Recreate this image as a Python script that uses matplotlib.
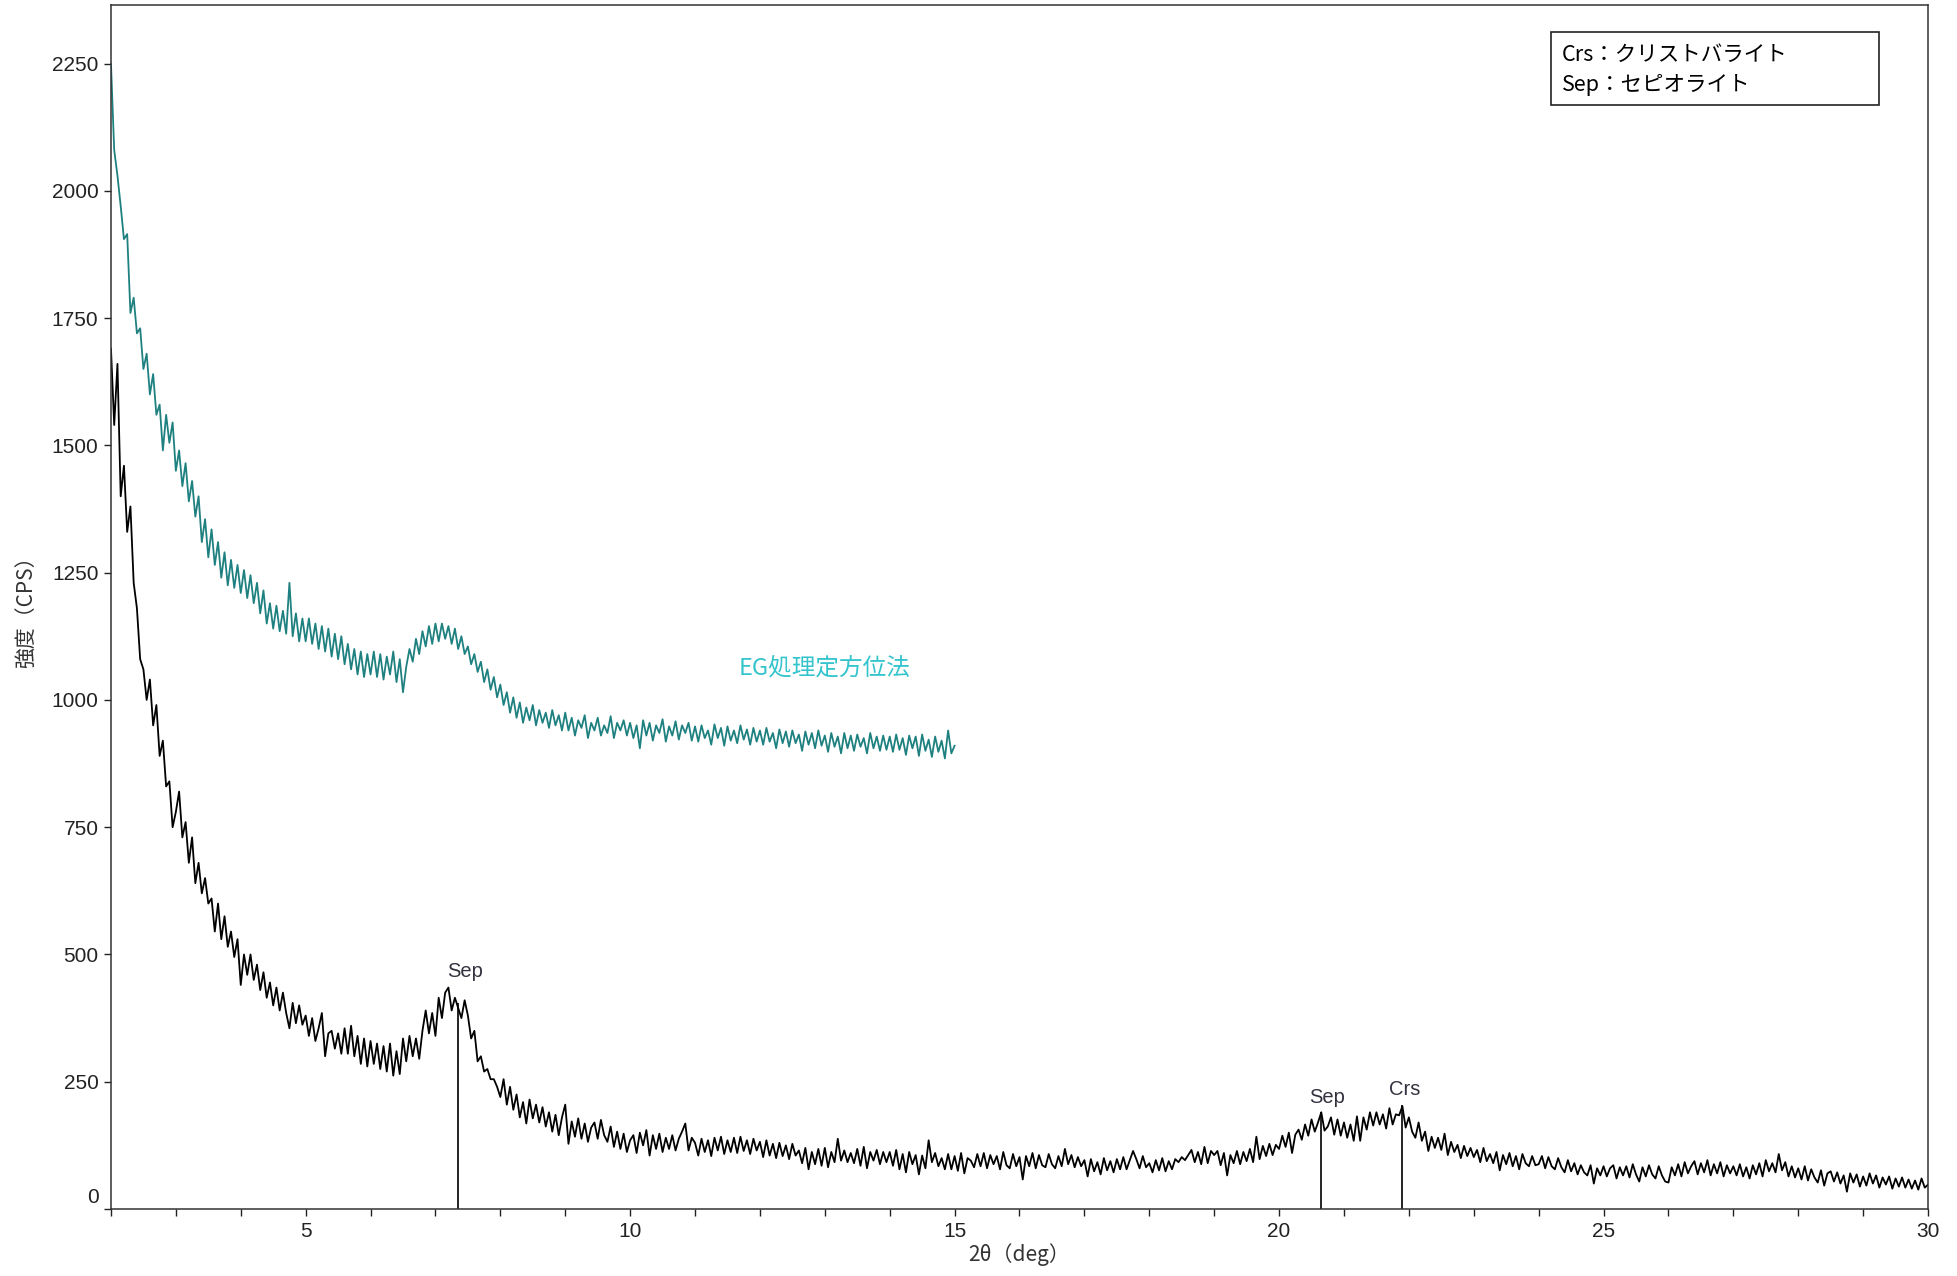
import numpy as np
import matplotlib
matplotlib.use('Agg')
import matplotlib.pyplot as plt
import matplotlib.transforms as mtransforms
from matplotlib.patches import Rectangle

# scan angle grid (2theta, 0.05 deg step) and intensities (CPS)
step = 0.05
x_black = np.round(np.arange(2.0, 30.0 + step / 2, step), 2)
y_black = [
    1690, 1540, 1660, 1400, 1460, 1330, 1380, 1230, 1180, 1080, 1060, 1000, 1040, 950, 990, 890, 920, 830, 840, 750,
    780, 820, 730, 760, 680, 730, 640, 680, 620, 650, 600, 610, 545, 600, 530, 575, 515, 545, 495, 530,
    440, 500, 460, 500, 450, 480, 430, 465, 415, 445, 400, 435, 390, 425, 385, 355, 405, 365, 400, 362,
    380, 340, 375, 330, 355, 385, 300, 345, 350, 315, 345, 305, 355, 305, 360, 300, 340, 285, 335, 280,
    330, 285, 325, 275, 320, 270, 325, 262, 310, 265, 335, 290, 340, 300, 335, 295, 350, 390, 345, 385,
    340, 415, 375, 425, 435, 390, 415, 395, 375, 410, 380, 335, 350, 290, 300, 270, 275, 255, 255, 240,
    220, 255, 205, 240, 195, 225, 180, 210, 168, 215, 178, 205, 170, 200, 162, 190, 152, 185, 145, 180,
    205, 128, 172, 142, 178, 138, 168, 132, 160, 170, 138, 175, 145, 132, 162, 122, 152, 118, 148, 112,
    135, 145, 110, 150, 125, 155, 105, 145, 118, 148, 112, 140, 118, 145, 115, 138, 152, 168, 115, 140,
    130, 105, 138, 112, 135, 104, 140, 115, 142, 108, 135, 112, 140, 110, 142, 114, 135, 108, 138, 115,
    132, 102, 135, 105, 128, 100, 130, 104, 125, 98, 128, 105, 115, 90, 120, 78, 112, 88, 118, 85,
    120, 82, 112, 92, 138, 95, 115, 92, 110, 90, 118, 85, 122, 80, 112, 95, 116, 88, 112, 92,
    112, 85, 116, 78, 108, 72, 112, 88, 106, 68, 105, 80, 135, 92, 110, 84, 100, 78, 108, 78,
    104, 75, 110, 70, 100, 95, 82, 108, 84, 110, 80, 106, 88, 104, 78, 112, 86, 80, 108, 84,
    102, 58, 104, 84, 110, 80, 106, 86, 82, 108, 88, 80, 104, 84, 118, 88, 106, 82, 102, 84,
    96, 64, 98, 74, 92, 68, 100, 76, 94, 72, 98, 78, 102, 78, 96, 114, 98, 80, 104, 82,
    90, 72, 96, 76, 100, 74, 94, 78, 98, 92, 102, 96, 106, 116, 92, 112, 88, 122, 90, 114,
    106, 114, 86, 110, 66, 106, 90, 114, 88, 112, 94, 118, 92, 142, 98, 124, 104, 128, 106, 126,
    118, 144, 122, 150, 110, 146, 156, 136, 166, 144, 176, 152, 170, 190, 154, 162, 180, 146, 176, 144,
    170, 140, 166, 134, 182, 134, 180, 156, 190, 164, 190, 166, 186, 158, 198, 166, 186, 184, 202, 160,
    180, 152, 140, 170, 134, 152, 114, 142, 120, 140, 116, 148, 106, 132, 112, 126, 100, 124, 104, 120,
    102, 116, 92, 120, 94, 108, 90, 112, 76, 106, 88, 110, 84, 104, 78, 108, 90, 84, 104, 86,
    88, 104, 80, 102, 84, 78, 100, 82, 72, 96, 74, 90, 68, 86, 72, 66, 86, 50, 80, 66,
    84, 64, 80, 86, 60, 82, 66, 84, 62, 88, 68, 54, 82, 64, 86, 68, 60, 84, 66, 54,
    52, 82, 66, 88, 64, 92, 70, 84, 94, 68, 90, 72, 96, 66, 88, 70, 92, 64, 86, 70,
    84, 66, 88, 64, 82, 60, 86, 68, 90, 64, 96, 74, 90, 72, 108, 76, 92, 64, 84, 62,
    80, 58, 84, 56, 78, 62, 52, 76, 46, 70, 74, 54, 72, 50, 66, 34, 70, 52, 68, 44,
    64, 46, 70, 50, 66, 42, 62, 48, 64, 40, 60, 44, 62, 42, 58, 40, 56, 38, 60, 42,
    48,
]

# EG treated oriented sample
x_eg = np.round(np.arange(2.0, 15.0 + step / 2, step), 2)
y_eg = [
    2250, 2080, 2030, 1970, 1905, 1915, 1760, 1790, 1720, 1730, 1650, 1680, 1600, 1640, 1560, 1580, 1490, 1560, 1505, 1545,
    1450, 1490, 1420, 1465, 1390, 1430, 1360, 1400, 1310, 1355, 1280, 1335, 1265, 1310, 1240, 1290, 1225, 1275, 1220, 1265,
    1210, 1255, 1200, 1245, 1190, 1230, 1170, 1215, 1150, 1190, 1140, 1185, 1135, 1175, 1130, 1230, 1125, 1170, 1115, 1160,
    1115, 1160, 1110, 1150, 1100, 1145, 1095, 1140, 1085, 1130, 1080, 1125, 1070, 1110, 1060, 1100, 1050, 1095, 1045, 1090,
    1050, 1095, 1045, 1090, 1040, 1085, 1050, 1095, 1035, 1080, 1015, 1065, 1100, 1075, 1120, 1090, 1135, 1105, 1145, 1110,
    1150, 1115, 1150, 1120, 1145, 1110, 1140, 1100, 1125, 1090, 1105, 1070, 1090, 1055, 1075, 1035, 1060, 1020, 1045, 1005,
    1030, 990, 1015, 975, 1005, 965, 995, 955, 985, 960, 990, 950, 980, 955, 975, 945, 980, 950, 970, 940,
    975, 940, 965, 930, 960, 945, 970, 925, 955, 940, 965, 930, 950, 935, 968, 925, 955, 940, 960, 930,
    955, 925, 950, 905, 960, 930, 955, 920, 950, 935, 962, 918, 948, 930, 958, 922, 950, 935, 955, 920,
    948, 918, 950, 925, 940, 912, 952, 925, 945, 910, 948, 920, 940, 915, 950, 922, 942, 912, 945, 918,
    940, 912, 945, 918, 935, 905, 942, 915, 938, 908, 940, 915, 932, 900, 938, 912, 935, 905, 940, 910,
    930, 898, 935, 908, 928, 895, 935, 905, 930, 900, 932, 908, 925, 895, 935, 905, 928, 900, 930, 902,
    928, 898, 932, 902, 925, 892, 930, 905, 928, 890, 932, 900, 922, 888, 928, 898, 920, 885, 940, 895,
    910,
]

# identified peaks
peak_names = ['Sep', 'Sep', 'Crs']
peak_pos = [7.35, 20.65, 21.9]
peak_top = [405, 191, 204]
label_x = [7.46, 20.74, 21.94]
label_y = [466, 220, 234]

legend_lines = ['Crs：クリストバライト', 'Sep：セピオライト']

plt.rcParams['font.family'] = ['Liberation Sans', 'Noto Sans CJK JP', 'DejaVu Sans']

fig = plt.figure(figsize=(19.57, 12.76), dpi=100)
ax = fig.add_axes([0.0567, 0.0525, 0.9285, 0.9436])

ax.plot(x_eg, y_eg, color='#1f8080', lw=1.3)
ax.plot(x_black, y_black, color='black', lw=1.3)
ax.vlines(peak_pos, 0, peak_top, color='black', lw=1.2)

for name, lx, ly in zip(peak_names, label_x, label_y):
    ax.text(lx, ly, name, ha='center', va='center', fontsize=14.5, color='#333340')

ax.text(13.0, 1062, 'EG処理定方位法', ha='center', va='center', fontsize=17,
        color='#33c4cc', family=['Noto Sans CJK JP', 'DejaVu Sans'])

ax.set_xlim(2, 30)
ax.set_ylim(0, 2365)
ax.set_xticks(range(2, 31))
ax.set_xticklabels([str(v) if v % 5 == 0 else '' for v in range(2, 31)])
ax.set_yticks(range(0, 2251, 250))
ax.set_yticklabels([str(v) for v in range(0, 2251, 250)])
ax.tick_params(direction='out', length=5, width=1.0, labelsize=15, colors='#222222', pad=4)

# lift the "0" label a little above the axis line as in the original
for lab in ax.get_yticklabels():
    if lab.get_text() == '0':
        lab.set_transform(lab.get_transform() + mtransforms.ScaledTranslation(0, 10 / 72, fig.dpi_scale_trans))

for s in ax.spines.values():
    s.set_color('#333333')
    s.set_linewidth(1.1)

ax.set_xlabel('2θ（deg）', fontsize=15, family=['Noto Sans CJK JP', 'DejaVu Sans'], color='#333333', labelpad=2)
ax.set_ylabel('強度（CPS）', fontsize=15, family=['Noto Sans CJK JP', 'DejaVu Sans'], color='#333333', labelpad=10)

# legend box
ax.add_patch(Rectangle((0.7925, 0.917), 0.1805, 0.0606, transform=ax.transAxes,
                       fill=False, edgecolor='#222222', lw=1.2))
ax.text(0.7986, 0.9585, legend_lines[0], transform=ax.transAxes, va='center', ha='left',
        fontsize=15.5, family=['Noto Sans CJK JP', 'DejaVu Sans'], color='black')
ax.text(0.7986, 0.9336, legend_lines[1], transform=ax.transAxes, va='center', ha='left',
        fontsize=15.5, family=['Noto Sans CJK JP', 'DejaVu Sans'], color='black')

fig.savefig('out.png', dpi=100)
